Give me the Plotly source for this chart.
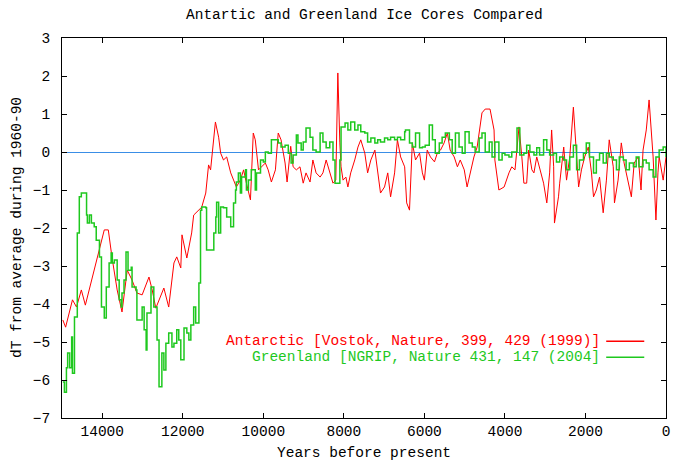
import plotly.graph_objects as go

# Antarctic (Vostok) temperature anomaly, years before present
vostok_years = [14980, 14910, 14740, 14640, 14520, 14420, 13950, 13850, 13760, 13630,
                13510, 13380, 13260, 13140, 13010, 12840, 12760, 12670, 12470, 12350,
                12220, 12150, 12050, 12020, 11900, 11780, 11730, 11650, 11530, 11430,
                11360, 11310, 11240, 11190, 11110, 11060, 10990, 10910, 10810, 10740,
                10670, 10570, 10490, 10420, 10320, 10250, 10200, 10120, 10050, 9950,
                9880, 9800, 9700, 9630, 9560, 9460, 9410, 9320, 9260, 9180,
                9090, 9010, 8940, 8840, 8770, 8690, 8590, 8520, 8440, 8350,
                8270, 8200, 8150, 8100, 8070, 8020, 7950, 7900, 7830, 7730,
                7650, 7580, 7480, 7410, 7330, 7230, 7160, 7090, 6990, 6910,
                6840, 6740, 6670, 6590, 6490, 6440, 6370, 6300, 6220, 6120,
                6050, 6000, 5930, 5850, 5750, 5680, 5600, 5510, 5430, 5360,
                5260, 5180, 5110, 5010, 4940, 4860, 4770, 4690, 4640, 4570,
                4490, 4370, 4270, 4250, 4150, 4020, 3900, 3830, 3750, 3650,
                3580, 3530, 3460, 3410, 3330, 3280, 3210, 3140, 3040, 2960,
                2890, 2840, 2790, 2770, 2670, 2640, 2540, 2470, 2390, 2300,
                2220, 2170, 2100, 2020, 1930, 1850, 1800, 1730, 1650, 1560,
                1480, 1410, 1310, 1280, 1190, 1110, 1040, 940, 860, 790,
                690, 620, 570, 490, 420, 320, 250, 200, 170, 70, 0]
vostok_dt = [-4.42, -4.61, -3.89, -4.08, -3.63, -4.03, -2.05, -2.05, -2.76, -3.63,
             -4.21, -3.11, -3.37, -3.71, -3.76, -3.29, -3.63, -4.11, -3.58, -4.08,
             -2.92, -2.76, -3.05, -2.18, -2.79, -2.13, -1.66, -1.58, -1.45, -1.08,
             -0.34, -0.47, 0.32, 0.79, 0.39, -0.03, -0.21, -0.13, -0.55, -0.74,
             -0.92, -0.74, -0.47, -0.82, -1.26, 0.50, 0.32, -0.47, -0.39, -0.29,
             -0.47, -0.79, -0.47, 0.50, 0.32, -0.29, -0.79, 0.15, -0.39, -0.47,
             -0.39, -0.82, -0.55, -0.79, -0.21, -0.55, -0.66, -0.55, -0.21, -0.55,
             -0.82, -0.74, 2.08, 0.24, -0.39, -0.74, -0.66, -0.92, -0.55, -0.21,
             0.13, 0.32, -0.03, -0.55, -0.21, 0.05, -0.47, -1.08, -0.92, -0.55,
             -1.18, -0.55, 0.32, -0.13, -0.39, -1.34, -1.53, 0.24, -0.21, -0.03,
             -0.55, -0.74, 0.05, -0.13, -0.26, -0.03, 0.05, 0.24, 0.50, 0.05,
             -0.13, -0.39, -0.21, -0.47, -0.92, -0.55, -0.13, 0.13, 0.50, 1.03,
             1.13, 1.13, 0.58, -0.21, -1.00, -0.92, -0.55, -0.39, -0.47, 0.66,
             -0.13, -0.82, -0.82, 0.05, -0.47, -0.55, -0.13, -0.39, -0.82, -1.34,
             -0.55, 0.58, -0.39, -1.87, -1.18, -0.82, 0.13, -0.74, -0.13, 1.18,
             -0.03, -0.92, -0.47, -0.13, 0.13, -0.55, -1.18, -1.00, -0.66, -1.60,
             -0.74, 0.32, -0.39, -1.34, -0.74, 0.24, -0.29, -0.74, -1.18, -0.29,
             -0.13, -1.00, 0.05, 0.58, 1.37, -0.13, -1.79, -0.55, -0.13, -0.74, -0.13]

# Greenland (NGRIP) temperature anomaly, years before present
ngrip_years = [14980, 14940, 14890, 14860, 14810, 14760, 14740, 14690, 14620, 14570,
               14520, 14440, 14390, 14370, 14320, 14270, 14200, 14150, 14070, 14020,
               13950, 13900, 13830, 13780, 13750, 13700, 13630, 13580, 13530, 13510,
               13460, 13410, 13360, 13280, 13260, 13160, 13140, 13040, 13010, 12960,
               12910, 12890, 12790, 12720, 12640, 12590, 12520, 12470, 12420, 12350,
               12270, 12220, 12150, 12100, 12050, 11970, 11900, 11850, 11800, 11730,
               11680, 11600, 11560, 11530, 11430, 11410, 11280, 11230, 11180, 11160,
               11110, 11060, 10990, 10910, 10810, 10740, 10690, 10670, 10620, 10570,
               10540, 10440, 10420, 10370, 10300, 10200, 10170, 10070, 10000, 9950,
               9880, 9800, 9700, 9630, 9560, 9460, 9380, 9310, 9260, 9180,
               9140, 9060, 9010, 8940, 8840, 8770, 8690, 8590, 8520, 8440,
               8350, 8270, 8220, 8150, 8100, 8070, 7970, 7900, 7830, 7730,
               7650, 7580, 7480, 7410, 7330, 7230, 7160, 7090, 6990, 6910,
               6840, 6740, 6670, 6590, 6490, 6470, 6370, 6300, 6220, 6120,
               6050, 5980, 5880, 5800, 5730, 5630, 5560, 5480, 5380, 5310,
               5230, 5140, 5060, 4990, 4890, 4810, 4740, 4640, 4570, 4490,
               4390, 4320, 4250, 4150, 4070, 4000, 3900, 3830, 3700, 3630,
               3530, 3460, 3380, 3280, 3210, 3140, 3040, 2960, 2890, 2790,
               2720, 2640, 2540, 2470, 2390, 2300, 2220, 2150, 2050, 1980,
               1900, 1800, 1730, 1650, 1560, 1480, 1410, 1310, 1230, 1160,
               1060, 990, 910, 810, 740, 670, 570, 490, 420, 320,
               250, 170, 70, 0]
ngrip_dt = [-6.05, -6.32, -5.68, -5.29, -5.68, -4.87, -5.82, -4.34, -2.13, -1.18,
            -1.08, -1.08, -1.66, -1.87, -1.66, -1.87, -1.97, -2.32, -2.76, -4.08,
            -4.37, -3.55, -2.92, -2.66, -2.92, -2.84, -3.37, -3.89, -4.08, -3.71,
            -3.37, -2.63, -3.11, -3.03, -3.55, -3.63, -4.42, -4.42, -4.08, -4.68,
            -5.21, -4.24, -3.55, -4.08, -4.95, -6.18, -5.29, -5.74, -5.03, -4.76,
            -5.13, -5.03, -4.68, -4.95, -5.47, -4.63, -4.76, -4.95, -4.55, -4.08,
            -4.50, -3.45, -1.53, -1.45, -1.47, -2.58, -2.58, -2.13, -1.71, -1.32,
            -2.13, -1.45, -1.47, -1.71, -1.97, -1.34, -1.00, -0.79, -0.55, -1.08,
            -0.66, -0.47, -1.00, -0.74, -0.47, -1.00, -0.55, -0.21, -0.26, 0.00,
            -0.03, 0.32, 0.32, 0.24, 0.13, 0.18, -0.03, -0.29, -0.08, 0.45,
            0.24, 0.05, 0.26, 0.63, 0.39, 0.05, 0.00, 0.50, 0.26, 0.11,
            0.26, -0.21, -0.82, -0.82, -0.21, 0.66, 0.76, 0.58, 0.79, 0.58,
            0.71, 0.53, 0.50, 0.26, 0.37, 0.24, 0.32, 0.26, 0.37, 0.32,
            0.39, 0.32, 0.39, 0.32, 0.53, 0.58, 0.24, 0.13, 0.50, 0.11,
            0.13, 0.18, 0.71, 0.32, -0.03, 0.24, 0.39, 0.50, 0.32, -0.03,
            0.50, 0.13, -0.03, 0.53, 0.24, 0.13, 0.00, 0.37, 0.50, 0.00,
            0.26, -0.13, 0.26, -0.21, -0.03, -0.08, -0.13, 0.00, 0.63, -0.08,
            -0.03, 0.18, 0.00, -0.08, 0.11, -0.08, 0.32, 0.05, -0.08, -0.03,
            -0.26, -0.13, -0.21, -0.47, -0.13, 0.18, -0.47, -0.21, -0.03, 0.24,
            -0.13, -0.55, -0.21, -0.03, -0.29, -0.03, -0.13, -0.21, -0.47, -0.13,
            -0.21, -0.47, -0.29, -0.39, -0.13, -0.39, -0.21, -0.29, -0.47, -0.66,
            -0.13, 0.05, 0.13, -0.13]

x_ticks = [14000, 12000, 10000, 8000, 6000, 4000, 2000, 0]
x_tick_labels = ["14000", "12000", "10000", "8000", "6000", "4000", "2000", "0"]
y_ticks = [3, 2, 1, 0, -1, -2, -3, -4, -5, -6, -7]

title_text = "Antartic and Greenland Ice Cores Compared"
x_title = "Years before present"
y_title = "dT from average during 1960-90"
series_names = ["Antarctic [Vostok, Nature, 399, 429 (1999)]",
                "Greenland [NGRIP, Nature 431, 147 (2004]"]

RED = "#ff0000"
GREEN = "#1ec81e"
BLUE = "#3a8ee6"
FONT = "Liberation Mono"
FS = 14.5

fig = go.Figure()
fig.add_trace(go.Scatter(x=vostok_years, y=vostok_dt, mode="lines",
                         line=dict(color=RED, width=1), name=series_names[0]))
fig.add_trace(go.Scatter(x=ngrip_years, y=ngrip_dt, mode="lines",
                         line=dict(color=GREEN, width=1.5, shape="hv"),
                         name=series_names[1]))

axis_common = dict(showline=True, linecolor="#000", linewidth=1, mirror="ticks",
                   ticks="inside", ticklen=5, tickcolor="#000", showgrid=False,
                   tickfont=dict(family=FONT, size=FS, color="#000"))

fig.update_xaxes(range=[15000, 0], tickvals=x_ticks, ticktext=x_tick_labels,
                 zeroline=False, **axis_common)
fig.update_yaxes(range=[-7, 3], tickvals=y_ticks, zeroline=True,
                 zerolinecolor=BLUE, zerolinewidth=1, ticklabelstandoff=8,
                 **axis_common)

annotations = [
    dict(text=title_text, xref="paper", yref="paper", x=0.5, y=1.0, yshift=23,
         showarrow=False, xanchor="center", yanchor="middle",
         font=dict(family=FONT, size=FS, color="#000")),
    dict(text=x_title, xref="paper", yref="paper", x=0.5, y=0, yshift=-35,
         showarrow=False, xanchor="center", yanchor="middle",
         font=dict(family=FONT, size=FS, color="#000")),
    dict(text=y_title, xref="paper", yref="paper", x=0, xshift=-45, y=0.5,
         textangle=-90, showarrow=False, xanchor="center", yanchor="middle",
         font=dict(family=FONT, size=FS, color="#000")),
]
shapes = []
# key entries: text right-aligned, line sample to its right
for i, (name, color) in enumerate(zip(series_names, [RED, GREEN])):
    yk = 0.202 - i * 0.042
    annotations.append(dict(text=name, xref="paper", yref="paper", x=0.893, y=yk,
                            showarrow=False, xanchor="right", yanchor="middle",
                            borderpad=0,
                            font=dict(family=FONT, size=FS, color=color)))
    shapes.append(dict(type="line", xref="paper", yref="paper", x0=0.901, x1=0.964,
                       y0=yk, y1=yk, line=dict(color=color, width=1.5)))

fig.update_layout(
    width=675, height=461,
    margin=dict(l=62, r=5, t=38, b=43),
    paper_bgcolor="white", plot_bgcolor="white",
    showlegend=False,
    annotations=annotations, shapes=shapes,
)

fig.write_html("out.html")
